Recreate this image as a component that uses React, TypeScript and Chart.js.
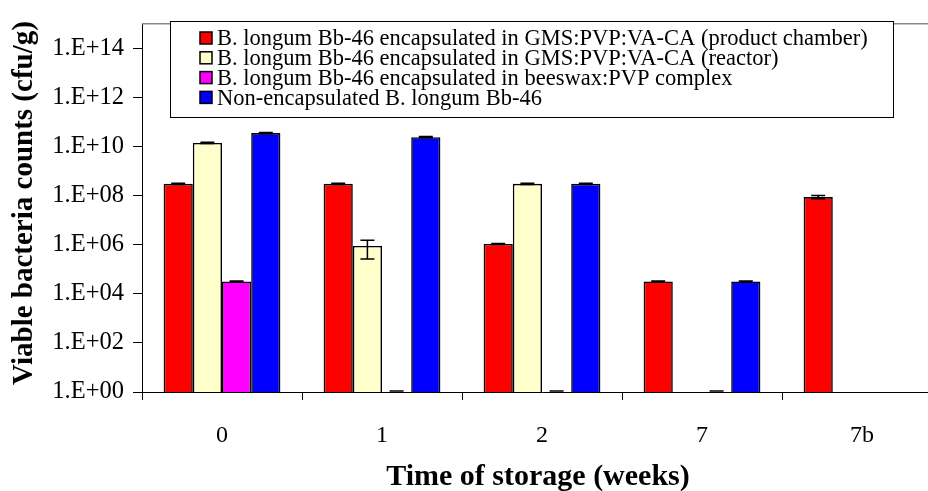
import React, { useEffect, useRef } from "react";
import { Chart, registerables } from "chart.js";

Chart.register(...registerables);

// ---- data ----
const categories = ["0", "1", "2", "7", "7b"];
const seriesLabels = [
  "B. longum Bb-46 encapsulated in GMS:PVP:VA-CA (product chamber)",
  "B. longum Bb-46 encapsulated in GMS:PVP:VA-CA (reactor)",
  "B. longum Bb-46 encapsulated in beeswax:PVP complex",
  "Non-encapsulated B. longum Bb-46",
];
const productChamber = [3.0e8, 3.0e8, 1.07e6, 3.2e4, 8.7e7];
const reactor = [1.4e10, 8.9e5, 3.0e8, null, null];
const beeswax = [3.2e4, 1, 1, 1, null];
const nonEncapsulated = [3.5e10, 2.4e10, 3.0e8, 3.2e4, null];

const productChamberErr = [1.5e7, 1.5e7, 5.0e4, 1.5e3, 1.3e7];
const reactorErr = [7.0e8, 6.3e5, 1.5e7, 0, 0];
const beeswaxErr = [1.5e3, 0, 0, 0, 0];
const nonEncapsulatedErr = [1.8e9, 1.2e9, 1.5e7, 1.5e3, 0];

const yTickValues = [1, 1e2, 1e4, 1e6, 1e8, 1e10, 1e12, 1e14];
const yMin = 1;
const yMax = 1e15;

const seriesColors = ["#FF0000", "#FFFFCC", "#FF00FF", "#0000FF"];
const yTitle = "Viable bacteria counts (cfu/g)";
const xTitle = "Time of storage (weeks)";

const SERIF = '"Liberation Serif", "Times New Roman", serif';

const allValues = [productChamber, reactor, beeswax, nonEncapsulated];
const allErrors = [productChamberErr, reactorErr, beeswaxErr, nonEncapsulatedErr];

function formatTick(v: number): string {
  const e = Math.round(Math.log10(v));
  return "1.E+" + (e < 10 ? "0" + e : String(e));
}

const decorPlugin = {
  id: "decor",
  afterDatasetsDraw(chart: any) {
    const ctx = chart.ctx;
    const yScale = chart.scales.y;
    ctx.save();
    ctx.strokeStyle = "#000";
    ctx.lineWidth = 1.5;
    allValues.forEach((vals, i) => {
      const meta = chart.getDatasetMeta(i);
      vals.forEach((v, j) => {
        if (v === null || v === undefined) return;
        const el = meta.data[j];
        if (!el) return;
        const err = allErrors[i][j] || 0;
        const x = el.x;
        const yTop = yScale.getPixelForValue(v + err);
        const yBot = yScale.getPixelForValue(Math.max(v - err, yMin));
        const half = 7;
        ctx.beginPath();
        if (err > 0) {
          ctx.moveTo(x, yTop);
          ctx.lineTo(x, yBot);
          ctx.moveTo(x - half, yBot);
          ctx.lineTo(x + half, yBot);
        }
        ctx.moveTo(x - half, yTop - (v <= yMin ? 1 : 0));
        ctx.lineTo(x + half, yTop - (v <= yMin ? 1 : 0));
        ctx.stroke();
      });
    });
    ctx.restore();
  },
  afterDraw(chart: any) {
    const ctx = chart.ctx;
    const area = chart.chartArea;
    ctx.save();
    // top border of plot area
    ctx.strokeStyle = "#888";
    ctx.lineWidth = 1.5;
    ctx.beginPath();
    ctx.moveTo(area.left, area.top);
    ctx.lineTo(area.right, area.top);
    ctx.stroke();

    // legend box
    const lx = 170, ly = 21, lw = 723, lh = 96;
    ctx.fillStyle = "#fff";
    ctx.fillRect(lx, ly, lw, lh);
    ctx.strokeStyle = "#000";
    ctx.lineWidth = 1;
    ctx.strokeRect(lx + 0.5, ly + 0.5, lw, lh);
    ctx.font = `22.5px ${SERIF}`;
    ctx.textBaseline = "middle";
    ctx.textAlign = "left";
    seriesLabels.forEach((label, i) => {
      const cy = 38 + i * 19.8;
      ctx.fillStyle = seriesColors[i];
      ctx.fillRect(200, cy - 6, 12, 12);
      ctx.strokeStyle = "#000";
      ctx.lineWidth = 1.5;
      ctx.strokeRect(200, cy - 6, 12, 12);
      ctx.fillStyle = "#000";
      ctx.fillText(label, 217, cy + 1.5);
    });

    // axis titles
    ctx.fillStyle = "#000";
    ctx.font = `bold 29px ${SERIF}`;
    ctx.textAlign = "center";
    ctx.textBaseline = "middle";
    ctx.save();
    ctx.translate(25, 203);
    ctx.rotate(-Math.PI / 2);
    ctx.fillText(yTitle, 0, 0);
    ctx.restore();
    ctx.font = `bold 30px ${SERIF}`;
    ctx.fillText(xTitle, 538, 477);
    ctx.restore();
  },
};

export default function App() {
  const canvasRef = useRef<HTMLCanvasElement | null>(null);

  useEffect(() => {
    const canvas = canvasRef.current;
    if (!canvas) return;
    const chart = new Chart(canvas, {
      type: "bar",
      data: {
        labels: categories,
        datasets: allValues.map((vals, i) => ({
          label: seriesLabels[i],
          data: vals as any,
          backgroundColor: seriesColors[i],
          borderColor: "#000",
          borderWidth: (c: any) => {
            const v = c.raw;
            return v === null || v === undefined || v <= yMin ? 0 : 1.6;
          },
          borderSkipped: "bottom",
          categoryPercentage: 0.73,
          barPercentage: 1.0,
        })),
      },
      options: {
        responsive: false,
        devicePixelRatio: 1,
        animation: false,
        layout: { padding: { top: 12, left: 0, right: 0, bottom: 0 } },
        plugins: {
          legend: { display: false },
          tooltip: { enabled: false },
          title: { display: false },
        },
        scales: {
          x: {
            type: "category",
            offset: true,
            grid: {
              offset: true,
              drawOnChartArea: false,
              drawTicks: true,
              tickLength: 8,
              tickColor: "#000",
              tickWidth: 1,
            },
            border: { display: true, color: "#000", width: 1 },
            ticks: {
              color: "#000",
              font: { family: SERIF, size: 24 },
              padding: 21,
              maxRotation: 0,
            },
            afterFit: (scale: any) => {
              scale.height = 99;
            },
          },
          y: {
            type: "logarithmic",
            min: yMin,
            max: yMax,
            grid: {
              drawOnChartArea: false,
              drawTicks: true,
              tickLength: 9,
              tickColor: "#000",
              tickWidth: 1,
            },
            border: { display: true, color: "#000", width: 1 },
            afterBuildTicks: (scale: any) => {
              scale.ticks = yTickValues.map((v) => ({ value: v, major: true }));
            },
            ticks: {
              color: "#000",
              font: { family: SERIF, size: 24.5 },
              padding: 9,
              autoSkip: false,
              callback: (v: any) => formatTick(Number(v)),
            },
            afterFit: (scale: any) => {
              scale.width = 142;
            },
          },
        },
      },
      plugins: [decorPlugin],
    });
    return () => {
      chart.destroy();
    };
  }, []);

  return (
    <div
      style={{
        position: "fixed",
        left: 0,
        top: 0,
        width: 928,
        height: 491,
        overflow: "hidden",
        background: "#fff",
      }}
    >
      <canvas
        ref={canvasRef}
        width={942}
        height={491}
        style={{ width: 942, height: 491, display: "block" }}
      />
    </div>
  );
}
